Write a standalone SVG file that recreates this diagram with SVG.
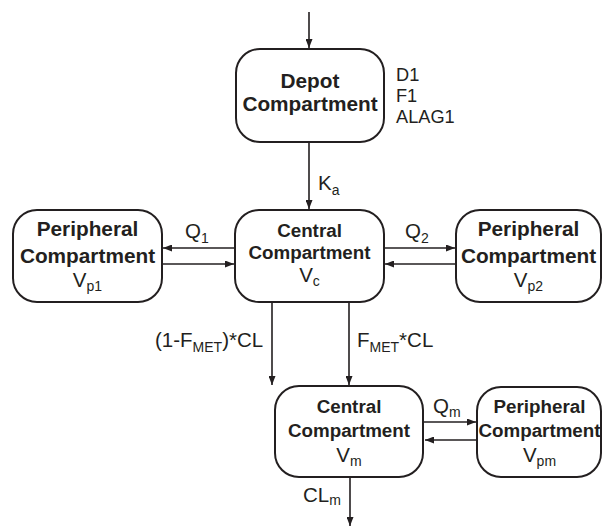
<svg xmlns="http://www.w3.org/2000/svg" width="603" height="527" viewBox="0 0 603 527">
<style>
.box{fill:#fff;stroke:#231f20;stroke-width:2}
.t{font-family:"Liberation Sans",Arial,sans-serif;fill:#231f20}
.b20{font-size:20.8px;font-weight:bold}
.b18{font-size:18.8px;font-weight:bold}
.r{font-size:20.5px}
.d{font-size:18.2px}
.s{font-size:14px}
.c{stroke:#231f20;stroke-width:1.6;fill:none}
</style>
<defs>
<marker id="ah" markerWidth="9" markerHeight="7" refX="9" refY="3.5" orient="auto" markerUnits="userSpaceOnUse">
<path d="M0,0 L9,3.5 L0,7 Z" fill="#231f20"/>
</marker>
</defs>
<rect width="603" height="527" fill="#fff"/>
<g id="connectors">
<line class="c" x1="309" y1="12" x2="309" y2="48" marker-end="url(#ah)"/>
<line class="c" x1="309" y1="143" x2="309" y2="209" marker-end="url(#ah)"/>
<line class="c" x1="235" y1="248" x2="163" y2="248" marker-end="url(#ah)"/>
<line class="c" x1="162" y1="264" x2="234" y2="264" marker-end="url(#ah)"/>
<line class="c" x1="384" y1="248" x2="455" y2="248" marker-end="url(#ah)"/>
<line class="c" x1="456" y1="264" x2="385" y2="264" marker-end="url(#ah)"/>
<line class="c" x1="272" y1="303" x2="272" y2="385" marker-end="url(#ah)"/>
<line class="c" x1="349" y1="303" x2="349" y2="385" marker-end="url(#ah)"/>
<line class="c" x1="424" y1="422" x2="476" y2="422" marker-end="url(#ah)"/>
<line class="c" x1="477" y1="440" x2="425" y2="440" marker-end="url(#ah)"/>
<line class="c" x1="350" y1="478" x2="350" y2="526" marker-end="url(#ah)"/>
<text class="t r" x="318" y="190">K<tspan class="s" dy="5">a</tspan></text>
<text class="t r" x="185" y="238">Q<tspan class="s" dy="5">1</tspan></text>
<text class="t r" x="405" y="238">Q<tspan class="s" dy="5">2</tspan></text>
<text class="t r" x="155" y="347">(1-F<tspan class="s" dy="5">MET</tspan><tspan dy="-5">)*CL</tspan></text>
<text class="t r" x="357" y="347">F<tspan class="s" dy="5">MET</tspan><tspan dy="-5">*CL</tspan></text>
<text class="t r" x="433" y="413">Q<tspan class="s" dy="4">m</tspan></text>
<text class="t r" x="303" y="502">CL<tspan class="s" dy="3">m</tspan></text>
</g>
<g id="depot">
<rect class="box" x="236" y="49" width="148" height="93" rx="24"/>
<text class="t b20" x="310" y="88" text-anchor="middle">Depot</text>
<text class="t b20" x="310" y="111" text-anchor="middle">Compartment</text>
<text class="t d" x="396" y="81">D1</text>
<text class="t d" x="396" y="102">F1</text>
<text class="t d" x="396" y="123">ALAG1</text>
</g>
<g id="periph1">
<rect class="box" x="13" y="210" width="149" height="92" rx="24"/>
<text class="t b20" x="87.5" y="236" text-anchor="middle">Peripheral</text>
<text class="t b20" x="87.5" y="263" text-anchor="middle">Compartment</text>
<text class="t r" x="87.5" y="287" text-anchor="middle">V<tspan class="s" dy="4">p1</tspan></text>
</g>
<g id="central">
<rect class="box" x="235" y="210" width="149" height="92" rx="24"/>
<text class="t b18" x="309.5" y="237" text-anchor="middle">Central</text>
<text class="t b18" x="309.5" y="259" text-anchor="middle">Compartment</text>
<text class="t r" x="309.5" y="282" text-anchor="middle">V<tspan class="s" dy="4">c</tspan></text>
</g>
<g id="periph2">
<rect class="box" x="456" y="210" width="145" height="92" rx="24"/>
<text class="t b20" x="528.5" y="236" text-anchor="middle">Peripheral</text>
<text class="t b20" x="528.5" y="263" text-anchor="middle">Compartment</text>
<text class="t r" x="528.5" y="287" text-anchor="middle">V<tspan class="s" dy="4">p2</tspan></text>
</g>
<g id="metCentral">
<rect class="box" x="275" y="386" width="148" height="91" rx="24"/>
<text class="t b18" x="349" y="413" text-anchor="middle">Central</text>
<text class="t b18" x="349" y="437" text-anchor="middle">Compartment</text>
<text class="t r" x="349" y="462" text-anchor="middle">V<tspan class="s" dy="4">m</tspan></text>
</g>
<g id="metPeriph">
<rect class="box" x="477" y="387" width="124" height="90" rx="24"/>
<text class="t b18" x="539.5" y="413" text-anchor="middle">Peripheral</text>
<text class="t b18" x="539.5" y="437" text-anchor="middle">Compartment</text>
<text class="t r" x="539.5" y="462" text-anchor="middle">V<tspan class="s" dy="4">pm</tspan></text>
</g>
</svg>
